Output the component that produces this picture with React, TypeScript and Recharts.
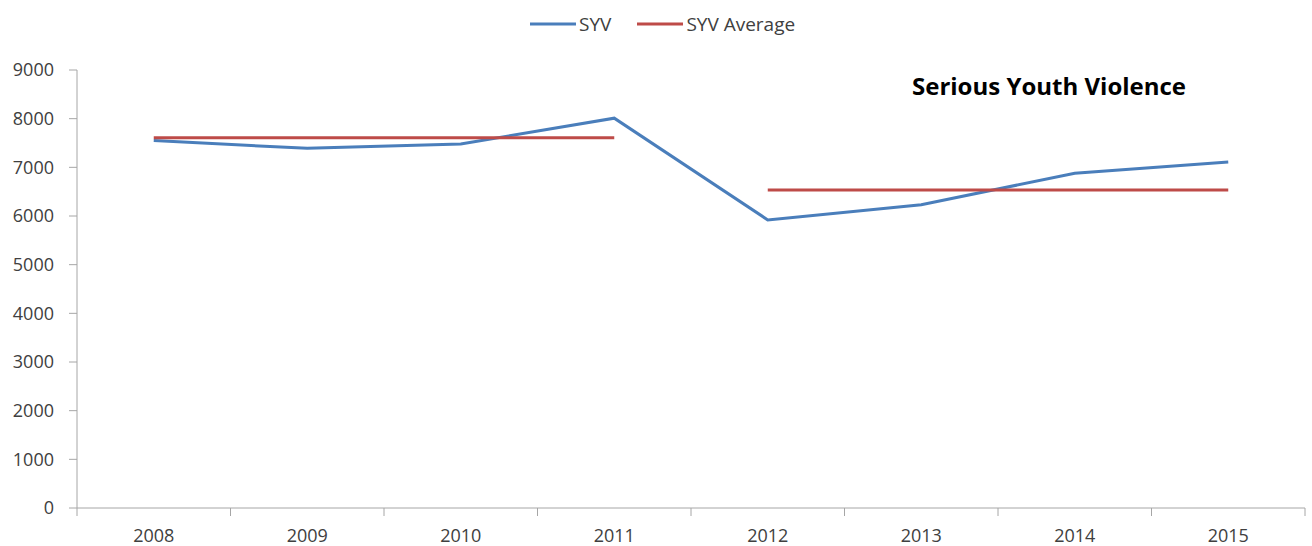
import React from 'react';
import { LineChart, Line, XAxis, YAxis, Legend } from 'recharts';

// values
const years = ['2008', '2009', '2010', '2011', '2012', '2013', '2014', '2015'];
const syv = [7550, 7390, 7480, 8010, 5920, 6230, 6880, 7110];
// average of the first four years, then of the last four
const avgEarly = [7610, 7610, 7610, 7610, null, null, null, null];
const avgLate = [null, null, null, null, 6535, 6535, 6535, 6535];
const yTicks = [0, 1000, 2000, 3000, 4000, 5000, 6000, 7000, 8000, 9000];

const FONT = '"Open Sans", sans-serif';
const BLUE = '#4a7ebb';
const RED = '#be4b48';
const AXIS = '#a6a6a6';
const TEXT = '#404040';

// one x slot per year, points sit in the middle of each slot
const data = years.map((year, i) => ({
  x: i + 0.5,
  year,
  syv: syv[i],
  avgEarly: avgEarly[i],
  avgLate: avgLate[i],
}));

// ticks at slot borders (integers) get a tick mark, slot centres get the year label
const xTicks: number[] = [];
for (let i = 0; i <= years.length * 2; i++) xTicks.push(i / 2);

const XTick = (props: any) => {
  const { x, y, payload } = props;
  const v = payload.value;
  if (Number.isInteger(v)) {
    return <line x1={x} x2={x} y1={y} y2={y + 8} stroke={AXIS} strokeWidth={1} />;
  }
  return (
    <text x={x} y={y + 34} textAnchor="middle" fontFamily={FONT} fontSize={18} fill={TEXT}>
      {years[Math.floor(v)]}
    </text>
  );
};

// the second average segment shares the legend entry of the first
const LegendContent = (props: any) => {
  const items = (props.payload || []).filter((p: any) => p.dataKey !== 'avgLate');
  return (
    <div style={{ display: 'flex', paddingLeft: 530 }}>
      {items.map((p: any) => (
        <div key={p.value} style={{ display: 'flex', alignItems: 'center', marginRight: 26 }}>
          <svg width={46} height={6} style={{ marginRight: 3 }}>
            <line x1={0} x2={46} y1={3} y2={3} stroke={p.color} strokeWidth={3} />
          </svg>
          <span style={{ fontFamily: FONT, fontSize: 19, color: TEXT }}>{p.value}</span>
        </div>
      ))}
    </div>
  );
};

const App: React.FC = () => {
  return (
    <div style={{ position: 'absolute', left: 0, top: 0, width: 1312, height: 546, background: '#fff' }}>
      <LineChart width={1312} height={546} data={data} margin={{ top: 70, right: 7, bottom: 0, left: 0 }}>
        <XAxis
          dataKey="x"
          type="number"
          domain={[0, years.length]}
          ticks={xTicks}
          interval={0}
          height={38}
          tickSize={0}
          tickMargin={0}
          tickLine={false}
          axisLine={{ stroke: AXIS }}
          tick={<XTick />}
        />
        <YAxis
          domain={[0, 9000]}
          ticks={yTicks}
          interval={0}
          width={77}
          tickSize={8}
          tickMargin={15}
          axisLine={{ stroke: AXIS }}
          tickLine={{ stroke: AXIS }}
          tick={{ fontFamily: FONT, fontSize: 18, fill: TEXT }}
        />
        <Legend
          verticalAlign="middle"
          align="center"
          layout="horizontal"
          wrapperStyle={{ top: 11, left: 0, width: 1312 }}
          content={<LegendContent />}
        />
        <Line
          dataKey="syv"
          name="SYV"
          stroke={BLUE}
          strokeWidth={3}
          dot={false}
          activeDot={false}
          isAnimationActive={false}
        />
        <Line
          dataKey="avgEarly"
          name="SYV Average"
          stroke={RED}
          strokeWidth={3}
          dot={false}
          activeDot={false}
          isAnimationActive={false}
        />
        <Line
          dataKey="avgLate"
          name="SYV Average"
          stroke={RED}
          strokeWidth={3}
          dot={false}
          activeDot={false}
          isAnimationActive={false}
        />
      </LineChart>
      <div
        style={{
          position: 'absolute',
          left: 912,
          top: 74,
          fontFamily: FONT,
          fontWeight: 700,
          fontSize: 24,
          lineHeight: '24px',
          color: '#000',
          whiteSpace: 'nowrap',
        }}
      >
        Serious Youth Violence
      </div>
    </div>
  );
};

export default App;
